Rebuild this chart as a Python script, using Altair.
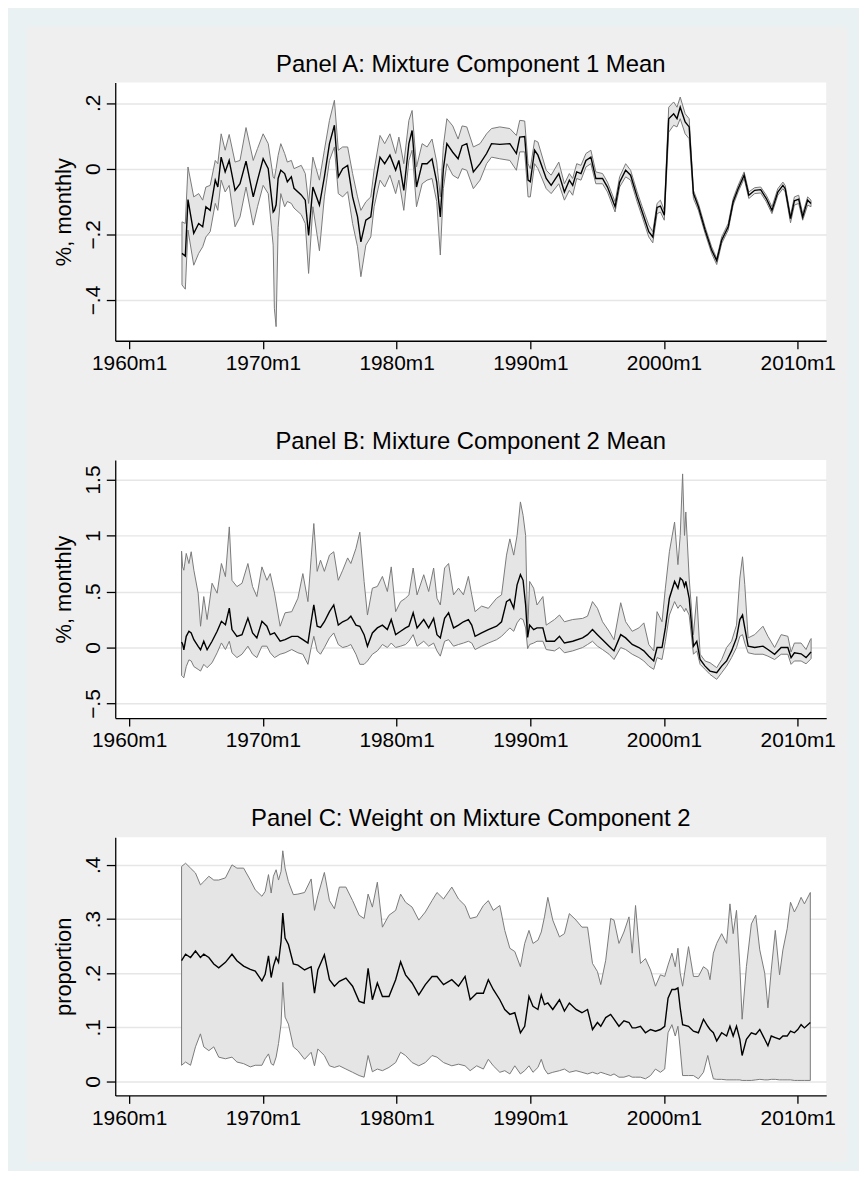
import altair as alt
import pandas as pd

# ---------------- Panel A: Mixture Component 1 Mean ----------------
A_t = [1963.95, 1964.2, 1964.4, 1964.83, 1965.2, 1965.5, 1965.74, 1966.06, 1966.44, 1966.63,
       1966.88, 1967.18, 1967.48, 1967.92, 1968.29, 1968.74, 1969.28, 1969.6, 1970.02, 1970.4,
       1970.77, 1970.86, 1970.99, 1971.14, 1971.34, 1971.63, 1971.83, 1972.13, 1972.33, 1972.87,
       1973.17, 1973.42, 1973.74, 1974.23, 1974.6, 1974.98, 1975.35, 1975.64, 1975.97, 1976.34,
       1976.71, 1977.08, 1977.33, 1977.7, 1978.07, 1978.32, 1978.76, 1979.11, 1979.5, 1979.93,
       1980.17, 1980.54, 1980.92, 1981.16, 1981.49, 1981.91, 1982.28, 1982.65, 1983.0, 1983.27,
       1983.5, 1983.76, 1984.2, 1984.6, 1984.9, 1985.25, 1985.74, 1986.24, 1986.73, 1987.1,
       1987.72, 1988.47, 1988.96, 1989.21, 1989.58, 1989.83, 1990.0, 1990.32, 1990.57, 1991.19,
       1991.56, 1992.13, 1992.55, 1992.92, 1993.17, 1993.47, 1993.79, 1994.16, 1994.53, 1994.9,
       1995.4, 1995.77, 1996.34, 1996.68, 1997.13, 1997.5, 1997.99, 1998.37, 1998.86, 1999.16,
       1999.48, 1999.73, 2000.02, 2000.35, 2000.72, 2000.97, 2001.21, 2001.58, 2001.88, 2002.2,
       2002.57, 2003.07, 2003.56, 2003.94, 2004.31, 2004.8, 2005.17, 2005.54, 2005.99, 2006.34,
       2006.78, 2007.23, 2007.65, 2008.07, 2008.51, 2008.89, 2009.06, 2009.46, 2009.75, 2010.07,
       2010.37, 2010.74, 2010.99]
A_hi = [-0.162, -0.167, 0.005, -0.086, -0.076, -0.096, -0.056, -0.051, 0.025, 0.015,
        0.106, 0.056, 0.104, 0.020, 0.025, 0.125, 0.025, 0.061, 0.106, 0.076,
        -0.025, -0.030, 0.000, 0.040, 0.076, 0.046, 0.020, 0.025, 0.000, 0.010,
        -0.015, -0.106, 0.035, -0.035, 0.056, 0.147, 0.208, 0.056, 0.066, 0.066,
        -0.015, -0.086, -0.127, -0.101, -0.086, -0.005, 0.101, 0.076, 0.106, 0.046,
        0.096, 0.015, 0.147, 0.177, 0.005, 0.076, 0.066, 0.090, 0.020, -0.086,
        0.070, 0.152, 0.130, 0.090, 0.130, 0.127, 0.066, 0.076, 0.106, 0.122,
        0.127, 0.122, 0.101, 0.147, 0.145, 0.015, 0.000, 0.086, 0.081, -0.005,
        -0.020, 0.020, -0.046, -0.015, -0.030, 0.015, 0.010, 0.046, 0.056, -0.010,
        -0.015, -0.041, -0.101, -0.025, 0.015, -0.005, -0.071, -0.116, -0.172, -0.192,
        -0.106, -0.096, -0.127, 0.187, 0.203, 0.187, 0.218, 0.167, 0.152, -0.066,
        -0.106, -0.177, -0.238, -0.273, -0.208, -0.167, -0.091, -0.051, -0.010, -0.071,
        -0.058, -0.056, -0.081, -0.116, -0.061, -0.041, -0.051, -0.142, -0.086, -0.081,
        -0.137, -0.086, -0.096]
A_mid = [-0.258, -0.266, -0.094, -0.197, -0.167, -0.177, -0.116, -0.127, -0.035, -0.056,
         0.035, -0.010, 0.025, -0.066, -0.046, 0.023, -0.086, -0.035, 0.030, 0.000,
         -0.132, -0.127, -0.110, -0.030, -0.005, -0.015, -0.040, -0.025, -0.060, -0.080,
         -0.096, -0.203, -0.056, -0.111, -0.025, 0.076, 0.132, -0.025, 0.000, 0.010,
         -0.086, -0.147, -0.223, -0.157, -0.147, -0.066, 0.035, 0.015, 0.041, -0.005,
         0.025, -0.066, 0.076, 0.116, -0.056, 0.015, 0.015, 0.030, -0.040, -0.147,
         0.000, 0.076, 0.050, 0.030, 0.070, 0.076, -0.010, 0.015, 0.046, 0.076,
         0.074, 0.076, 0.046, 0.096, 0.098, -0.035, -0.040, 0.056, 0.041, -0.030,
         -0.051, -0.015, -0.071, -0.035, -0.051, -0.010, -0.015, 0.025, 0.035, -0.030,
         -0.030, -0.056, -0.116, -0.041, -0.005, -0.020, -0.086, -0.132, -0.192, -0.208,
         -0.118, -0.114, -0.142, 0.152, 0.167, 0.152, 0.187, 0.142, 0.127, -0.076,
         -0.116, -0.187, -0.248, -0.280, -0.218, -0.177, -0.101, -0.061, -0.020, -0.081,
         -0.066, -0.064, -0.091, -0.127, -0.071, -0.051, -0.061, -0.152, -0.098, -0.093,
         -0.147, -0.096, -0.106]
A_lo = [-0.354, -0.367, -0.187, -0.294, -0.258, -0.238, -0.208, -0.192, -0.106, -0.127,
        -0.035, -0.071, -0.051, -0.177, -0.147, -0.056, -0.172, -0.116, -0.051, -0.076,
        -0.233, -0.425, -0.481, -0.180, -0.076, -0.116, -0.100, -0.106, -0.120, -0.140,
        -0.167, -0.319, -0.116, -0.250, -0.086, 0.025, 0.066, -0.076, -0.086, -0.070,
        -0.167, -0.238, -0.329, -0.233, -0.208, -0.116, -0.035, -0.056, -0.020, -0.076,
        -0.035, -0.127, 0.025, 0.056, -0.116, -0.046, -0.035, -0.030, -0.100, -0.263,
        -0.060, 0.015, -0.020, -0.030, 0.000, -0.005, -0.061, -0.035, 0.015, 0.035,
        0.030, 0.025, -0.005, 0.051, 0.051, -0.086, -0.086, 0.015, 0.000, -0.061,
        -0.076, -0.046, -0.096, -0.066, -0.081, -0.030, -0.035, 0.005, 0.015, -0.046,
        -0.046, -0.071, -0.132, -0.056, -0.025, -0.035, -0.101, -0.147, -0.208, -0.226,
        -0.137, -0.132, -0.157, 0.111, 0.132, 0.127, 0.152, 0.106, 0.091, -0.091,
        -0.127, -0.197, -0.258, -0.292, -0.228, -0.187, -0.111, -0.071, -0.030, -0.091,
        -0.076, -0.074, -0.101, -0.137, -0.081, -0.061, -0.071, -0.165, -0.111, -0.106,
        -0.157, -0.111, -0.116]

# ---------------- Panel B: Mixture Component 2 Mean ----------------
B_t = [1963.92, 1964.0, 1964.09, 1964.27, 1964.47, 1964.64, 1964.84, 1965.16, 1965.34, 1965.58,
       1965.83, 1966.2, 1966.58, 1966.9, 1967.2, 1967.49, 1967.69, 1968.06, 1968.44, 1968.88,
       1969.23, 1969.55, 1969.93, 1970.3, 1970.55, 1970.87, 1971.29, 1971.66, 1972.16, 1972.62,
       1972.99, 1973.37, 1973.61, 1973.81, 1974.06, 1974.31, 1974.6, 1974.98, 1975.3, 1975.64,
       1975.97, 1976.34, 1976.58, 1976.96, 1977.25, 1977.57, 1977.82, 1978.19, 1978.56, 1978.94,
       1979.31, 1979.6, 1979.93, 1980.3, 1980.67, 1980.92, 1981.24, 1981.53, 1982.03, 1982.4,
       1982.77, 1983.02, 1983.27, 1983.59, 1983.89, 1984.26, 1984.63, 1985.0, 1985.37, 1985.62,
       1985.87, 1986.36, 1986.86, 1987.48, 1987.85, 1988.22, 1988.47, 1988.76, 1989.01, 1989.26,
       1989.46, 1989.65, 1989.8, 1989.95, 1990.25, 1990.5, 1990.94, 1991.19, 1991.81, 1992.18,
       1992.55, 1993.17, 1993.91, 1994.28, 1994.65, 1995.02, 1995.4, 1995.89, 1996.26, 1996.76,
       1997.13, 1997.62, 1998.12, 1998.49, 1998.86, 1999.23, 1999.48, 1999.85, 2000.1, 2000.4,
       2000.79, 2001.04, 2001.21, 2001.39, 2001.53, 2001.63, 2001.88, 2002.2, 2002.45, 2002.7,
       2003.07, 2003.44, 2003.94, 2004.31, 2004.68, 2005.05, 2005.42, 2005.67, 2005.87, 2006.04,
       2006.29, 2006.78, 2007.4, 2007.77, 2008.27, 2008.76, 2009.26, 2009.5, 2009.75, 2010.25,
       2010.62, 2010.94, 2011.0]
B_hi = [0.86, 0.72, 0.69, 0.84, 0.75, 0.855, 0.69, 0.485, 0.19, 0.455,
        0.25, 0.574, 0.485, 0.75, 0.633, 1.077, 0.60, 0.544, 0.574, 0.75,
        0.544, 0.455, 0.72, 0.60, 0.66, 0.485, 0.19, 0.31, 0.32, 0.44,
        0.66, 0.41, 0.80, 1.107, 0.68, 0.78, 0.68, 0.825, 0.855, 0.60,
        0.69, 0.80, 0.75, 0.885, 1.03, 0.59, 0.29, 0.53, 0.545, 0.635,
        0.50, 0.72, 0.32, 0.41, 0.44, 0.47, 0.71, 0.47, 0.65, 0.50,
        0.71, 0.44, 0.38, 0.71, 0.75, 0.47, 0.53, 0.47, 0.635, 0.47,
        0.32, 0.37, 0.35, 0.44, 0.47, 0.825, 0.97, 0.825, 1.0, 1.30,
        1.18, 1.0, 0.13, 0.59, 0.53, 0.38, 0.455, 0.20, 0.25, 0.29,
        0.23, 0.25, 0.26, 0.28, 0.41, 0.35, 0.23, 0.145, 0.07, 0.40,
        0.23, 0.145, 0.175, 0.22, 0.027, -0.03, 0.32, 0.23, 0.53, 0.855,
        1.12, 0.74, 1.0, 1.55, 1.0, 1.21, 0.62, 0.115, 0.455, -0.06,
        -0.12, -0.136, -0.18, -0.107, 0.0, 0.056, 0.20, 0.62, 0.81, 0.56,
        0.086, 0.115, 0.19, 0.10, 0.0, 0.115, 0.10, -0.04, 0.04, 0.04,
        -0.018, 0.07, 0.08]
B_mid = [0.05, 0.03, -0.02, 0.10, 0.145, 0.13, 0.07, 0.01, -0.02, 0.056,
         -0.02, 0.056, 0.145, 0.234, 0.204, 0.352, 0.16, 0.10, 0.115, 0.263,
         0.13, 0.086, 0.234, 0.19, 0.115, 0.13, 0.056, 0.07, 0.10, 0.10,
         0.07, 0.04, 0.23, 0.38, 0.19, 0.18, 0.23, 0.32, 0.38, 0.20,
         0.23, 0.25, 0.28, 0.20, 0.19, 0.115, 0.012, 0.13, 0.175, 0.20,
         0.16, 0.25, 0.115, 0.145, 0.175, 0.19, 0.31, 0.175, 0.25, 0.175,
         0.26, 0.115, 0.086, 0.26, 0.31, 0.175, 0.20, 0.23, 0.25, 0.20,
         0.10, 0.13, 0.16, 0.19, 0.23, 0.41, 0.43, 0.35, 0.56, 0.65,
         0.60, 0.38, 0.09, 0.20, 0.16, 0.175, 0.175, 0.056, 0.056, 0.10,
         0.04, 0.056, 0.086, 0.115, 0.16, 0.115, 0.07, 0.012, -0.03, 0.115,
         0.086, 0.027, 0.0, -0.03, -0.077, -0.12, 0.0, 0.0, 0.175, 0.44,
         0.59, 0.53, 0.62, 0.60, 0.545, 0.59, 0.44, 0.012, 0.056, -0.107,
         -0.166, -0.21, -0.225, -0.166, -0.12, -0.03, 0.086, 0.25, 0.29, 0.175,
         0.012, 0.0, 0.012, -0.018, -0.06, 0.0, 0.0, -0.09, -0.047, -0.056,
         -0.09, -0.047, -0.04]
B_lo = [-0.25, -0.26, -0.27, -0.17, -0.11, -0.12, -0.17, -0.195, -0.21, -0.15,
        -0.18, -0.136, -0.047, 0.041, -0.018, 0.056, -0.047, -0.09, -0.06, 0.012,
        -0.06, -0.09, 0.012, 0.012, -0.047, -0.09, -0.06, -0.047, -0.018, -0.047,
        -0.06, -0.15, 0.0, 0.10, -0.03, -0.06, 0.0, 0.086, 0.13, 0.027,
        0.0, 0.012, 0.027, -0.06, -0.15, -0.15, -0.12, -0.06, -0.03, 0.027,
        0.0, 0.04, 0.0, 0.012, 0.027, 0.056, 0.115, 0.012, 0.056, 0.012,
        0.04, -0.03, -0.077, 0.056, 0.07, 0.012, 0.027, 0.04, 0.056, 0.04,
        -0.018, 0.012, 0.04, 0.07, 0.10, 0.145, 0.175, 0.145, 0.22, 0.26,
        0.25, 0.175, -0.01, 0.027, 0.04, 0.056, 0.056, -0.018, -0.03, 0.0,
        -0.047, -0.03, 0.0, 0.027, 0.056, 0.012, -0.018, -0.06, -0.107, 0.0,
        -0.018, -0.06, -0.09, -0.12, -0.166, -0.195, -0.09, -0.107, 0.056, 0.29,
        0.41, 0.35, 0.38, 0.35, 0.32, 0.35, 0.29, -0.06, -0.03, -0.15,
        -0.195, -0.24, -0.284, -0.225, -0.166, -0.09, 0.0, 0.10, 0.115, 0.04,
        -0.047, -0.06, -0.06, -0.077, -0.107, -0.06, -0.06, -0.15, -0.12, -0.12,
        -0.145, -0.107, -0.10]

# ---------------- Panel C: Weight on Mixture Component 2 ----------------
C_t = [1963.92, 1964.22, 1964.59, 1964.96, 1965.33, 1965.58, 1965.96, 1966.33, 1966.7, 1967.2,
       1967.69, 1968.06, 1968.56, 1969.06, 1969.43, 1969.93, 1970.17, 1970.42, 1970.62, 1970.79,
       1970.99, 1971.17, 1971.36, 1971.49, 1971.66, 1971.91, 1972.28, 1972.62, 1973.12, 1973.61,
       1973.86, 1974.11, 1974.6, 1974.98, 1975.35, 1975.72, 1976.21, 1976.71, 1977.2, 1977.57,
       1977.87, 1978.19, 1978.56, 1978.94, 1979.43, 1979.93, 1980.3, 1980.67, 1981.16, 1981.66,
       1982.15, 1982.65, 1983.02, 1983.51, 1984.13, 1984.63, 1985.12, 1985.5, 1985.99, 1986.49,
       1986.86, 1987.23, 1987.72, 1988.09, 1988.47, 1988.84, 1989.26, 1989.58, 1989.9, 1990.2,
       1990.57, 1990.82, 1991.06, 1991.31, 1991.68, 1992.18, 1992.55, 1992.92, 1993.42, 1993.86,
       1994.28, 1994.65, 1995.02, 1995.27, 1995.64, 1996.01, 1996.26, 1996.63, 1997.0, 1997.38,
       1997.62, 1997.87, 1998.24, 1998.61, 1998.99, 1999.36, 1999.73, 2000.05, 2000.3, 2000.59,
       2000.84, 2001.04, 2001.21, 2001.39, 2001.83, 2002.2, 2002.57, 2002.95, 2003.27, 2003.44,
       2003.69, 2003.94, 2004.31, 2004.68, 2004.93, 2005.17, 2005.42, 2005.67, 2005.84, 2006.16,
       2006.53, 2006.86, 2007.16, 2007.53, 2007.77, 2008.02, 2008.32, 2008.64, 2008.89, 2009.21,
       2009.46, 2009.75, 2010.0, 2010.25, 2010.5, 2010.94]
C_hi = [0.397, 0.403, 0.394, 0.385, 0.363, 0.369, 0.379, 0.372, 0.372, 0.376,
        0.400, 0.394, 0.394, 0.372, 0.354, 0.342, 0.351, 0.382, 0.348, 0.379,
        0.391, 0.372, 0.388, 0.426, 0.394, 0.369, 0.345, 0.346, 0.349, 0.374,
        0.316, 0.343, 0.386, 0.334, 0.319, 0.359, 0.359, 0.334, 0.307, 0.301,
        0.346, 0.322, 0.368, 0.285, 0.307, 0.316, 0.346, 0.331, 0.322, 0.298,
        0.313, 0.334, 0.349, 0.337, 0.359, 0.337, 0.325, 0.301, 0.304, 0.325,
        0.334, 0.316, 0.325, 0.279, 0.246, 0.240, 0.212, 0.255, 0.279, 0.255,
        0.261, 0.276, 0.304, 0.340, 0.298, 0.267, 0.273, 0.310, 0.298, 0.285,
        0.285, 0.218, 0.203, 0.179, 0.224, 0.301, 0.298, 0.255, 0.276, 0.304,
        0.237, 0.325, 0.218, 0.227, 0.206, 0.176, 0.197, 0.194, 0.215, 0.237,
        0.212, 0.246, 0.200, 0.176, 0.249, 0.194, 0.194, 0.212, 0.206, 0.188,
        0.237, 0.255, 0.273, 0.255, 0.328, 0.273, 0.316, 0.212, 0.115, 0.212,
        0.291, 0.307, 0.243, 0.200, 0.136, 0.206, 0.279, 0.197, 0.243, 0.282,
        0.331, 0.313, 0.325, 0.340, 0.328, 0.349]
C_mid = [0.223, 0.235, 0.229, 0.241, 0.229, 0.235, 0.229, 0.217, 0.210, 0.220,
         0.235, 0.223, 0.213, 0.207, 0.204, 0.186, 0.198, 0.232, 0.192, 0.213,
         0.229, 0.220, 0.259, 0.311, 0.265, 0.253, 0.217, 0.215, 0.206, 0.212,
         0.163, 0.206, 0.234, 0.188, 0.176, 0.185, 0.191, 0.176, 0.148, 0.145,
         0.209, 0.151, 0.182, 0.157, 0.157, 0.188, 0.221, 0.197, 0.182, 0.160,
         0.179, 0.194, 0.194, 0.179, 0.188, 0.176, 0.194, 0.151, 0.163, 0.163,
         0.188, 0.170, 0.151, 0.133, 0.124, 0.127, 0.090, 0.102, 0.157, 0.139,
         0.133, 0.160, 0.142, 0.145, 0.133, 0.151, 0.130, 0.145, 0.133, 0.127,
         0.133, 0.096, 0.109, 0.102, 0.118, 0.124, 0.115, 0.102, 0.112, 0.109,
         0.099, 0.099, 0.102, 0.090, 0.096, 0.093, 0.096, 0.102, 0.154, 0.170,
         0.170, 0.173, 0.136, 0.105, 0.102, 0.093, 0.090, 0.115, 0.102, 0.096,
         0.090, 0.075, 0.090, 0.084, 0.102, 0.084, 0.102, 0.078, 0.048, 0.078,
         0.090, 0.087, 0.096, 0.078, 0.066, 0.084, 0.081, 0.078, 0.084, 0.084,
         0.093, 0.090, 0.096, 0.105, 0.099, 0.109]
C_lo = [0.030, 0.036, 0.030, 0.064, 0.088, 0.064, 0.057, 0.064, 0.045, 0.042,
        0.045, 0.036, 0.033, 0.027, 0.030, 0.030, 0.042, 0.051, 0.033, 0.030,
        0.045, 0.070, 0.106, 0.183, 0.119, 0.106, 0.064, 0.057, 0.041, 0.054,
        0.029, 0.060, 0.048, 0.029, 0.026, 0.029, 0.023, 0.017, 0.011, 0.008,
        0.048, 0.018, 0.023, 0.020, 0.026, 0.035, 0.054, 0.048, 0.035, 0.029,
        0.035, 0.048, 0.045, 0.035, 0.029, 0.032, 0.029, 0.020, 0.029, 0.023,
        0.041, 0.029, 0.017, 0.020, 0.014, 0.029, 0.014, 0.020, 0.029, 0.017,
        0.026, 0.041, 0.023, 0.014, 0.017, 0.020, 0.023, 0.017, 0.020, 0.017,
        0.014, 0.017, 0.014, 0.017, 0.014, 0.011, 0.014, 0.008, 0.008, 0.011,
        0.008, 0.008, 0.008, 0.005, 0.011, 0.023, 0.017, 0.023, 0.090, 0.105,
        0.084, 0.102, 0.060, 0.011, 0.011, 0.011, 0.005, 0.017, 0.048, 0.029,
        0.005, 0.004, 0.004, 0.003, 0.003, 0.003, 0.003, 0.003, 0.002, 0.002,
        0.002, 0.003, 0.004, 0.003, 0.003, 0.004, 0.004, 0.003, 0.003, 0.003,
        0.003, 0.002, 0.002, 0.002, 0.002, 0.002]

# ---------------- axes / labels ----------------
X_TICKS = [1960, 1970, 1980, 1990, 2000, 2010]
X_DOMAIN = [1958.96, 2012.13]
A_TICKS = [-0.4, -0.2, 0, 0.2]
B_TICKS = [-0.5, 0, 0.5, 1, 1.5]
C_TICKS = [0, 0.1, 0.2, 0.3, 0.4]
A_DOMAIN = [-0.524, 0.262]
B_DOMAIN = [-0.630, 1.675]
C_DOMAIN = [-0.0257, 0.451]

FONT = "Liberation Sans"
PLOT_W, PLOT_H = 716, 260
BAND_FILL = "#e5e5e5"
BAND_EDGE = "#7a7a7a"

Y_LABEL_EXPR = ("(datum.value < 0 ? '\u2212' : '') + (datum.value == 0 ? '0' : "
                "(abs(datum.value) < 1 ? substring(toString(abs(datum.value)), 1) : "
                "toString(abs(datum.value))))")


def panel(t, lo, mid, hi, title, ytitle, ydomain, yticks):
    assert len(t) == len(lo) == len(mid) == len(hi)
    df = pd.DataFrame({"t": t, "lo": lo, "mid": mid, "hi": hi})
    xenc = alt.X(
        "t:Q",
        scale=alt.Scale(domain=X_DOMAIN, nice=False, zero=False),
        axis=alt.Axis(values=X_TICKS, labelExpr="toString(datum.value) + 'm1'",
                      title=None, grid=False, tickSize=8, labelPadding=4,
                      labelAngle=0, labelAlign="center", labelBaseline="top",
                      labelFlush=False, labelOverlap=False),
    )
    yscale = alt.Scale(domain=ydomain, nice=False, zero=False)
    yaxis = alt.Axis(values=yticks, labelExpr=Y_LABEL_EXPR, title=ytitle, grid=True,
                     labelAngle=270, labelAlign="center", labelBaseline="alphabetic",
                     labelPadding=7, tickSize=9, labelFlush=False, labelOverlap=False,
                     titleAngle=270, titleAlign="center", titleBaseline="alphabetic",
                     titleX=-45, titleY=PLOT_H / 2)
    band = alt.Chart(df).mark_area(
        fill=BAND_FILL, stroke=BAND_EDGE, strokeWidth=1, opacity=1
    ).encode(
        x=xenc,
        y=alt.Y("hi:Q", scale=yscale, axis=yaxis),
        y2="lo:Q",
    )
    line = alt.Chart(df).mark_line(color="black", strokeWidth=1.4).encode(
        x="t:Q", y="mid:Q"
    )
    return alt.layer(band, line).properties(
        width=PLOT_W, height=PLOT_H,
        title=alt.TitleParams(title, anchor="middle", frame="group", fontSize=24,
                              font=FONT, fontWeight="normal", color="black",
                              baseline="alphabetic", offset=-13),
    )


pA = panel(A_t, A_lo, A_mid, A_hi, "Panel A: Mixture Component 1 Mean",
           "%, monthly", A_DOMAIN, A_TICKS)
pB = panel(B_t, B_lo, B_mid, B_hi, "Panel B: Mixture Component 2 Mean",
           "%, monthly", B_DOMAIN, B_TICKS)
pC = panel(C_t, C_lo, C_mid, C_hi, "Panel C: Weight on Mixture Component 2",
           "proportion", C_DOMAIN, C_TICKS)

# light gray graph region behind all three panels
bg = alt.Chart(pd.DataFrame({"k": [0]})).mark_rect(color="#efefef").encode(
    x=alt.value(-89), x2=alt.value(737), y=alt.value(0), y2=alt.value(1143)
).properties(width=PLOT_W, height=1)

panels = alt.vconcat(pA, pB, pC, spacing=120, bounds="flush")

chart = alt.vconcat(bg, panels, spacing=55, bounds="flush").properties(
    background="#e9f1f3",
    padding={"left": 19, "top": 15, "right": 12, "bottom": 5},
).configure_view(
    fill="white", strokeWidth=0
).configure_axis(
    domainColor="#000000", domainWidth=1.3, tickColor="#000000", tickWidth=1.3,
    labelFont=FONT, labelFontSize=21, labelColor="#000000",
    titleFont=FONT, titleFontSize=22, titleFontWeight="normal", titleColor="#000000",
    gridColor="#e6e6e6", gridWidth=1.5,
)

chart.save("out.html", embed_options={"renderer": "svg", "actions": False})
